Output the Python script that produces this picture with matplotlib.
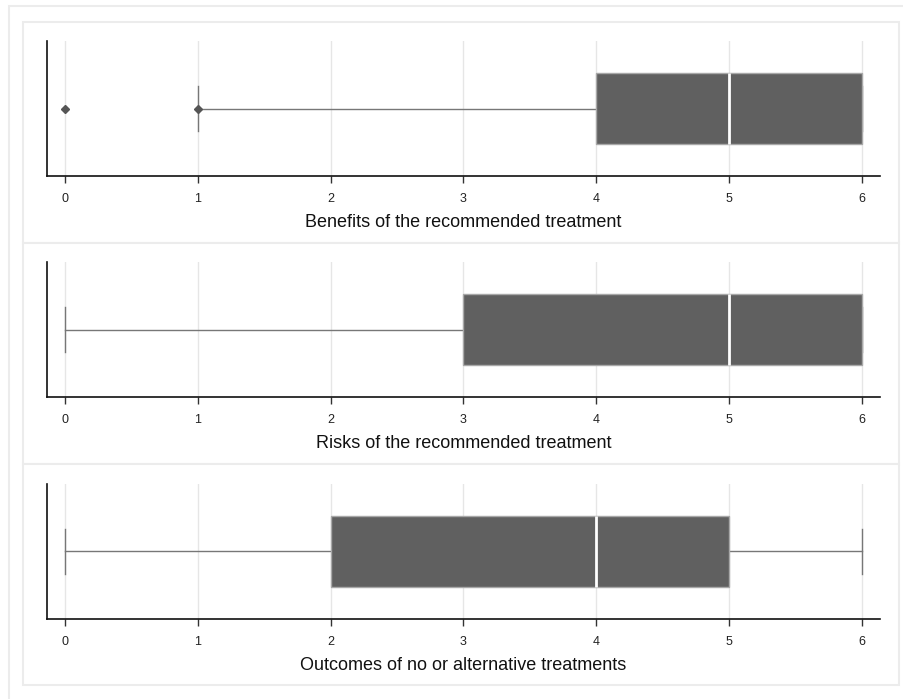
import matplotlib.pyplot as plt
from matplotlib.patches import Rectangle

plt.rcParams['font.family'] = ['Liberation Sans', 'DejaVu Sans']

# five-number summaries per item (0-6 scale)
labels = ["Benefits of the recommended treatment",
          "Risks of the recommended treatment",
          "Outcomes of no or alternative treatments"]
whis_lo = [1, 0, 0]
q1 = [4, 3, 2]
med = [5, 5, 4]
q3 = [6, 6, 5]
whis_hi = [6, 6, 6]
fliers = [[0, 1], [], []]
ticks = [0, 1, 2, 3, 4, 5, 6]

W, H = 904, 699
fig = plt.figure(figsize=(W / 100, H / 100), dpi=100)

def fx(px):
    return px / W

def fy(py):
    return 1 - py / H

# outer frame and panel backgrounds
fig.patches.append(Rectangle((fx(8.5), fy(H + 5)), fx(W + 10), fy(5.5) - fy(H + 5),
                             transform=fig.transFigure, fill=False,
                             edgecolor='#ececec', lw=1.5, zorder=-2))
panel_tops = [22, 243, 464]
panel_h = 221
axes_top = [41, 262, 484]
axes_h = 135

for i in range(3):
    top = panel_tops[i]
    fig.patches.append(Rectangle((fx(23), fy(top + panel_h)), fx(899 - 23), panel_h / H,
                                 transform=fig.transFigure, facecolor='white',
                                 edgecolor='#ececec', lw=1.5, zorder=-1))

    at = axes_top[i]
    ax = fig.add_axes([fx(47), fy(at + axes_h), fx(880 - 47), axes_h / H])
    ax.patch.set_visible(False)
    stats = [dict(whislo=whis_lo[i], q1=q1[i], med=med[i], q3=q3[i],
                  whishi=whis_hi[i], fliers=fliers[i])]
    ax.bxp(stats, positions=[1], widths=0.53, capwidths=0.34, vert=False,
           patch_artist=True, showfliers=True,
           boxprops=dict(facecolor='#606060', edgecolor='#a8a8a8', lw=1, zorder=3),
           medianprops=dict(color='white', lw=2, zorder=4),
           whiskerprops=dict(color='#777777', lw=1, zorder=2),
           capprops=dict(color='#777777', lw=1, zorder=2),
           flierprops=dict(marker='D', markersize=4, markerfacecolor='#555555',
                           markeredgecolor='#555555', zorder=2.5))
    ax.set_ylim(0.49, 1.51)
    ax.set_xlim(-0.135, 6.135)
    ax.set_xticks(ticks)
    ax.set_yticks([])
    ax.grid(axis='x', color='#e6e6e6', lw=1)
    ax.set_axisbelow(True)
    for s in ['top', 'right']:
        ax.spines[s].set_visible(False)
    ax.spines['left'].set_color('#111111')
    ax.spines['bottom'].set_color('#111111')
    ax.spines['left'].set_linewidth(1.2)
    ax.spines['bottom'].set_linewidth(1.2)
    ax.tick_params(axis='x', length=5, width=1, color='#333333',
                   labelsize=9, labelcolor='#222222', pad=7)
    ax.set_xlabel(labels[i], fontsize=13, color='#111111', labelpad=7)

fig.savefig("out.png", dpi=100)
